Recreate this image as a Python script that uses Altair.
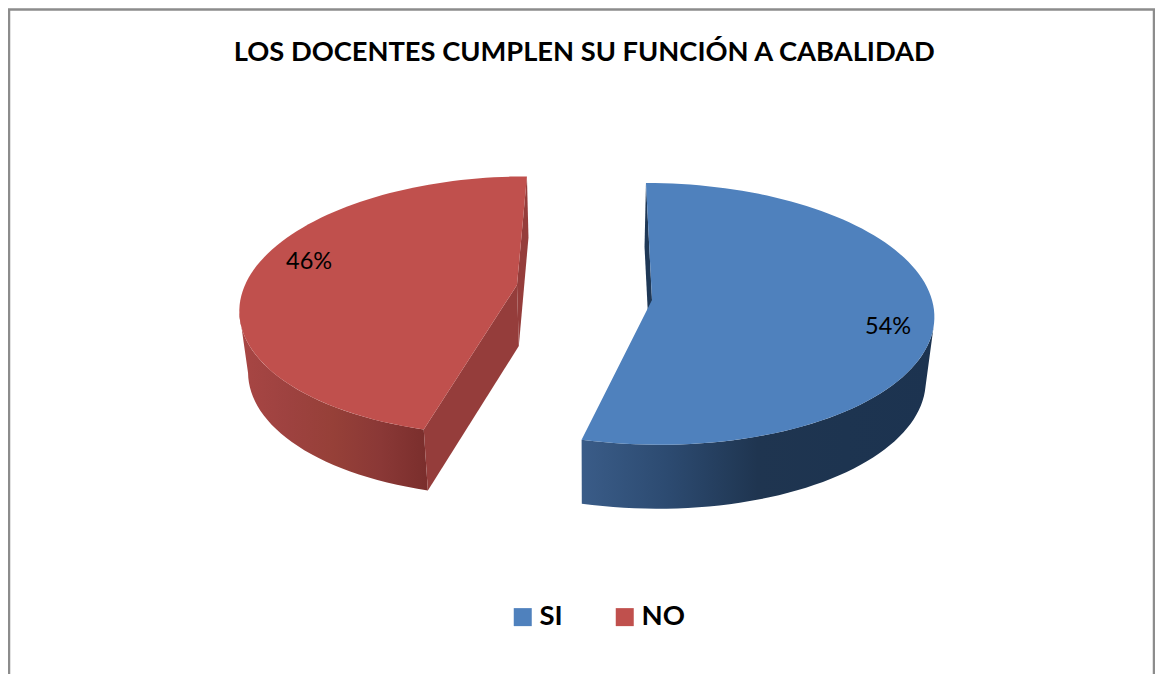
import math
import altair as alt
import pandas as pd

TITLE = "LOS DOCENTES CUMPLEN SU FUNCIÓN A CABALIDAD"
categories = ["SI", "NO"]
shares = [54, 46]
labels = ["54%", "46%"]
colors = ["#4F81BD", "#C0504D"]
wall_stops = [
    ["#3A5C88", "#2C4A70", "#1F3550", "#1D3450", "#1C3350"],
    ["#A84644", "#9E4240", "#964038", "#8A3836", "#7A2E2C"],
]
cut_colors = ["#1F3856", "#953D3B"]

# perspective view of an exploded disc
W, H = 1147, 666
CX, SHRINK = 589, 0.025
VIEW = {
    "SI": {"ax": 63, "cy": 300, "p": 0.106, "a": 280, "b": 129.4, "depth": 64},
    "NO": {"ax": -72, "cy": 285, "p": 0.16, "a": 272, "b": 126, "depth": 61},
}
LABEL_AT = {"SI": (0.82, 0.205), "NO": (-0.795, -0.187)}


def project(cat, u, v, low=False):
    s = VIEW[cat]
    w = 1 - s["p"] * v
    x = CX + (s["ax"] + s["a"] * u) / w
    y = s["cy"] + s["b"] * v / w
    if low:
        x = CX + (x - CX) * (1 - SHRINK)
        y = y + s["depth"]
    return x, y


def arc(cat, a0, a1, low=False):
    n = max(2, int(abs(a1 - a0) / 2))
    out = []
    for i in range(n + 1):
        t = math.radians(a0 + (a1 - a0) * i / n)
        out.append(project(cat, math.sin(t), -math.cos(t), low))
    return out


x_scale = alt.Scale(domain=[8, 8 + W], range=[0, W], nice=False, zero=False)
y_scale = alt.Scale(domain=[8, 8 + H], range=[0, H], nice=False, zero=False)


def poly_df(pts, cat):
    return pd.DataFrame({"px": [p[0] for p in pts], "py": [p[1] for p in pts],
                         "i": list(range(len(pts))), "cat": cat})


def enc(chart):
    return chart.encode(
        x=alt.X("px:Q", scale=x_scale, axis=None),
        y=alt.Y("py:Q", scale=y_scale, axis=None),
        order=alt.Order("i:Q"),
    )


def flat(pts, fill, cat="x"):
    return enc(alt.Chart(poly_df(pts, cat)).mark_line(fill=fill, strokeOpacity=0))


def wall(pts, stops):
    grad = alt.Gradient(
        gradient="linear", x1=0, y1=0, x2=1, y2=0,
        stops=[alt.GradientStop(offset=i / (len(stops) - 1), color=c) for i, c in enumerate(stops)],
    )
    return enc(alt.Chart(poly_df(pts, "x")).mark_line(fill=grad, strokeOpacity=0))


angles = []
start = 0.0
for s in shares:
    angles.append((start, start + s * 3.6))
    start += s * 3.6

layers = []
frame = alt.Chart(alt.Data(values=[{}])).mark_rect(
    fill="white", stroke="#8C8C8C", strokeWidth=2.5
).encode(x=alt.value(1), x2=alt.value(1146), y=alt.value(1.5), y2=alt.value(720))
layers.append(frame)

for idx in [1, 0]:
    cat = categories[idx]
    a0, a1 = angles[idx]
    apex = project(cat, 0, 0)
    apex_low = project(cat, 0, 0, True)
    # outer wall, only the part facing the viewer
    if cat == "SI":
        w0, w1 = 100, a1
        cut_angles = [a0 % 360]
    else:
        w0, w1 = a0, 258
        cut_angles = [a0 % 360, a1 % 360]
    layers.append(wall(arc(cat, w0, w1) + arc(cat, w0, w1, True)[::-1], wall_stops[idx]))
    # cut faces that can be seen
    for ang in cut_angles:
        e = arc(cat, ang, ang + 0.01)[0]
        e_low = arc(cat, ang, ang + 0.01, True)[0]
        layers.append(flat([apex, e, e_low, apex_low], cut_colors[idx]))

# top faces carry the legend
top_rows = []
for idx in range(2):
    cat = categories[idx]
    a0, a1 = angles[idx]
    pts = [project(cat, 0, 0)] + arc(cat, a0, a1)
    top_rows.append(poly_df(pts, cat))
tops = enc(alt.Chart(pd.concat(top_rows)).mark_line(filled=True, strokeOpacity=0)).encode(
    fill=alt.Fill(
        "cat:N",
        scale=alt.Scale(domain=categories, range=colors),
        legend=alt.Legend(
            title=None, orient="none", legendX=501, legendY=595, direction="horizontal",
            symbolType="square", symbolSize=324, symbolStrokeWidth=0, symbolOpacity=1,
            labelFont="Lato", labelFontSize=27.5, labelFontWeight="bold", labelColor="black",
            columnPadding=48, labelOffset=3, symbolFillColor="#000",
        ),
    ),
    detail="cat:N",
)
layers.append(tops)

text_rows = []
for idx, cat in enumerate(categories):
    u, v = LABEL_AT[cat]
    x, y = project(cat, u, v)
    text_rows.append({"px": x, "py": y, "t": labels[idx]})
layers.append(
    alt.Chart(pd.DataFrame(text_rows)).mark_text(font="Lato", fontSize=23.5, color="black").encode(
        x=alt.X("px:Q", scale=x_scale, axis=None),
        y=alt.Y("py:Q", scale=y_scale, axis=None),
        text="t:N",
    )
)

chart = alt.layer(*layers).properties(
    width=W, height=H, padding=0, autosize="none",
    title=alt.TitleParams(TITLE, font="Lato", fontSize=27.3, fontWeight="bold", color="black",
                          anchor="start", dx=226, dy=58, offset=0),
).configure_view(stroke=None)

chart.save("out.html", embed_options={"renderer": "svg", "actions": False})
